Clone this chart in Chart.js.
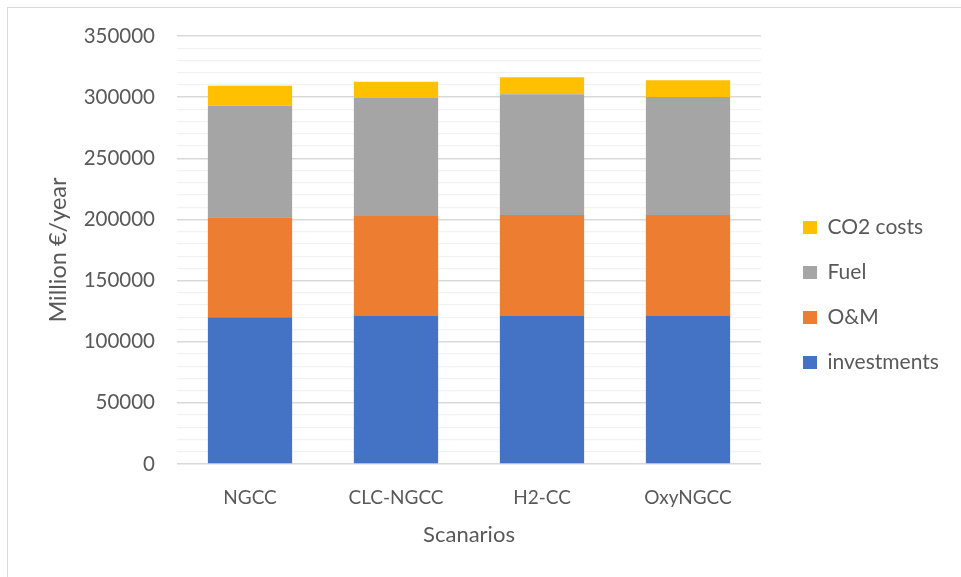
<!DOCTYPE html>
<html><head><meta charset="utf-8">
<script src="https://cdn.jsdelivr.net/npm/chart.js@4.4.0/dist/chart.umd.min.js"></script>
<style>
html,body{margin:0;padding:0;background:#fff;}
#wrap{position:relative;width:961px;height:577px;overflow:hidden;background:#fff;}
#frame{position:absolute;left:7px;top:7px;right:-5px;bottom:-5px;border-left:1px solid #d9d9d9;border-top:1px solid #d9d9d9;}
canvas{position:absolute;left:0;top:0;}
</style></head>
<body><div id="wrap"><div id="frame"></div><canvas id="c" width="961" height="577" style="width:961px;height:577px"></canvas></div>
<script>
const categories = ['NGCC', 'CLC-NGCC', 'H2-CC', 'OxyNGCC'];
const investments = [120000, 121000, 121000, 121000];
const om = [81700, 81800, 82600, 82600];
const fuel = [91300, 96500, 98700, 96500];
const co2 = [16400, 13300, 13900, 13700];
const seriesNames = ['investments', 'O&M', 'Fuel', 'CO2 costs'];
const yMin = 0, yMax = 350000, yMajor = 50000, yMinor = 10000;
const xTitle = 'Scanarios';
const yTitle = 'Million €/year';

const TEXT = '#595959';
const FONT = 'Lato, "Open Sans", sans-serif';

const legendFix = {
  id: 'legendFix',
  beforeInit(chart) {
    const orig = chart.legend.fit;
    chart.legend.fit = function () { orig.call(this); this.width = 200; };
  },
  beforeDraw(chart) {
    const lg = chart.legend;
    lg.left = 779; lg.top = 193;
  }
};

new Chart(document.getElementById('c').getContext('2d'), {
  type: 'bar',
  data: {
    labels: categories,
    datasets: [
      { label: seriesNames[0], data: investments, backgroundColor: '#4472C4' },
      { label: seriesNames[1], data: om, backgroundColor: '#ED7D31' },
      { label: seriesNames[2], data: fuel, backgroundColor: '#A5A5A5' },
      { label: seriesNames[3], data: co2, backgroundColor: '#FFC000' }
    ]
  },
  options: {
    responsive: false,
    animation: false,
    layout: { padding: { top: 36, left: 0, right: 0, bottom: 0 } },
    datasets: { bar: { barPercentage: 0.577, categoryPercentage: 1 } },
    plugins: {
      legend: {
        position: 'right', align: 'start', reverse: true,
        labels: { boxWidth: 14, boxHeight: 13, padding: 24, color: TEXT, font: { family: FONT, size: 21 } }
      },
      tooltip: { enabled: false }
    },
    scales: {
      x: {
        stacked: true,
        grid: { display: false, drawTicks: false },
        border: { display: false },
        ticks: { color: TEXT, font: { family: FONT, size: 19 }, padding: 22 },
        title: { display: true, text: xTitle, color: TEXT, font: { family: FONT, size: 22 }, padding: { top: 0, bottom: 29 } },
        afterFit(s) { s.height = 113; }
      },
      y: {
        stacked: true, min: yMin, max: yMax,
        ticks: {
          stepSize: yMinor, autoSkip: false, color: TEXT, font: { family: FONT, size: 20.5 }, padding: 22,
          callback: v => (v % yMajor === 0 ? String(v) : '')
        },
        grid: {
          drawTicks: false,
          color: c => (c.tick && c.tick.value % yMajor === 0 ? '#d9d9d9' : '#f2f2f2'),
          lineWidth: c => (c.tick && c.tick.value % yMajor === 0 ? 1.5 : 1.2)
        },
        border: { display: false },
        title: { display: true, text: yTitle, color: TEXT, font: { family: FONT, size: 23.5 }, padding: { top: 44, bottom: 0 } },
        afterFit(s) { s.width = 177; }
      }
    }
  },
  plugins: [legendFix]
});
</script>
</body></html>
